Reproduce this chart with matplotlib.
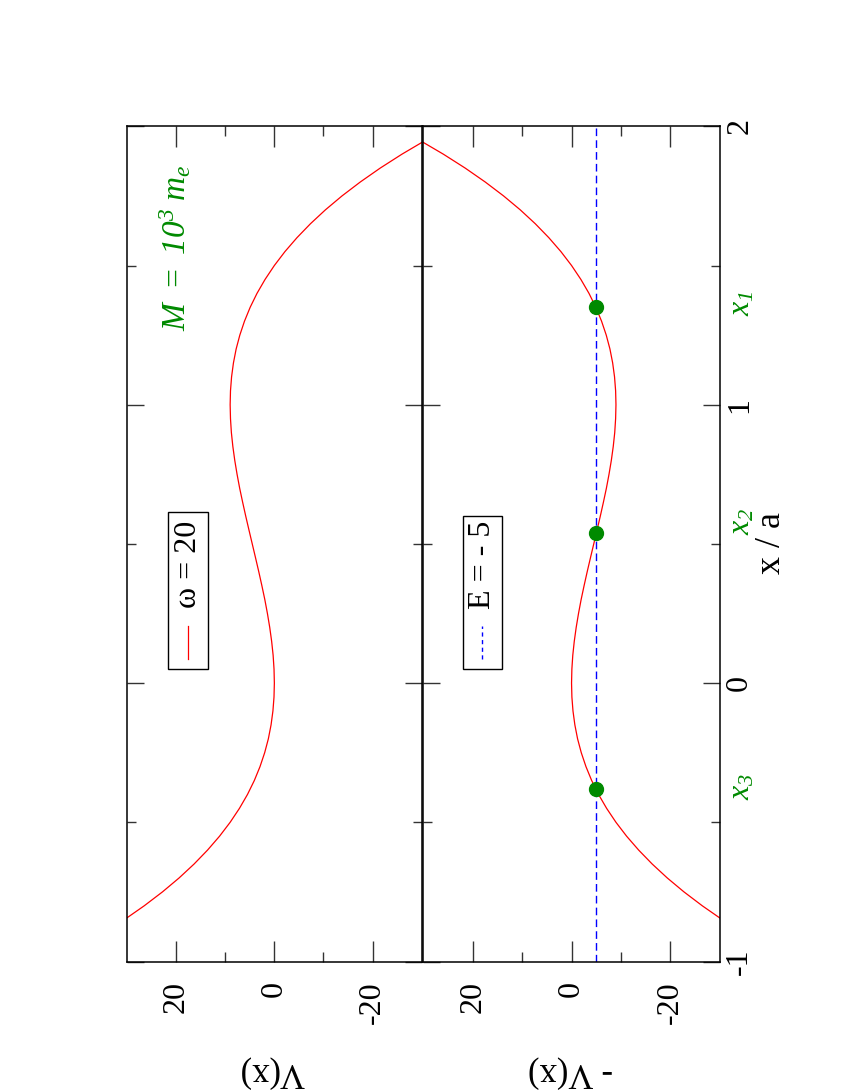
import numpy as np
import matplotlib
matplotlib.use("Agg")
import matplotlib.pyplot as plt
from matplotlib.patches import Rectangle

plt.rcParams["font.family"] = ["Liberation Serif", "DejaVu Serif"]
plt.rcParams["mathtext.fontset"] = "custom"
plt.rcParams["mathtext.rm"] = "Liberation Serif:italic"
plt.rcParams["mathtext.it"] = "Liberation Serif:italic"
plt.rcParams["axes.unicode_minus"] = False

# potencial V(x) (x en unidades de a)
x_vals = [-1.00, -0.95, -0.90, -0.85, -0.80, -0.75, -0.70, -0.65, -0.60, -0.55,
          -0.50, -0.45, -0.40, -0.35, -0.30, -0.25, -0.20, -0.15, -0.10, -0.05,
          0.00, 0.05, 0.10, 0.15, 0.20, 0.25, 0.30, 0.35, 0.40, 0.45,
          0.50, 0.55, 0.60, 0.65, 0.70, 0.75, 0.80, 0.85, 0.90, 0.95,
          1.00, 1.05, 1.10, 1.15, 1.20, 1.25, 1.30, 1.35, 1.40, 1.45,
          1.50, 1.55, 1.60, 1.65, 1.70, 1.75, 1.80, 1.85, 1.90, 1.95, 2.00]
V_vals = [45.0, 39.8, 35.0, 30.56, 26.5, 22.78, 19.4, 16.35, 13.61, 11.16,
          9.0, 7.11, 5.47, 4.08, 2.92, 1.97, 1.22, 0.67, 0.29, 0.07,
          0.0, 0.065, 0.25, 0.55, 0.94, 1.41, 1.94, 2.54, 3.17, 3.83,
          4.5, 5.17, 5.83, 6.46, 7.06, 7.59, 8.06, 8.45, 8.75, 8.93,
          9.0, 8.93, 8.71, 8.33, 7.78, 7.03, 6.08, 4.92, 3.53, 1.89,
          0.0, -2.16, -4.61, -7.35, -10.4, -13.78, -17.5, -21.56, -25.99, -30.8, -36.0]

E = -5
x_turn = [1.35, 0.54, -0.38]          # x1, x2, x3
turn_labels = [r"$x_1$", r"$x_2$", r"$x_3$"]
label_shift = [0.015, 0.04, 0.007]    # desplazamiento de las etiquetas
omega = 20

V = np.array(V_vals)
xs = np.array(x_vals)

W, H = 842, 1090
fig = plt.figure(figsize=(W / 100, H / 100), dpi=100)

bot = 1 - 961.5 / H
hgt = (961.5 - 126.3) / H
ax1 = fig.add_axes([127 / W, bot, (421.7 - 127) / W, hgt])
ax2 = fig.add_axes([423.5 / W, bot, (719.6 - 423.5) / W, hgt])

green = "#008a00"

# panel superior (V) y panel inferior (-V), girados 90 grados
ax1.plot(V, xs, color="red", lw=0.9)
ax2.plot(-V, xs, color="red", lw=0.9)
ax2.plot([E, E], [-1, 2], color="blue", lw=1.0, dashes=(5.5, 3))
ax2.plot([E] * len(x_turn), x_turn, "o", color=green, ms=10, zorder=5)

for ax in (ax1, ax2):
    ax.set_xlim(30, -30)
    ax.set_ylim(-1, 2)
    ax.set_xticks([-20, 0, 20])
    ax.set_xticks([-10, 10], minor=True)
    ax.set_yticks([-1, 0, 1, 2])
    ax.set_yticks([-0.5, 0.5, 1.5], minor=True)
    ax.tick_params(axis="x", which="major", direction="in", length=15,
                   width=1.0, color="#333333", top=True, bottom=True)
    ax.tick_params(axis="x", which="minor", direction="in", length=7.5,
                   width=1.0, color="#333333", top=True, bottom=True)
    ax.tick_params(axis="y", which="major", direction="in", length=12.5,
                   width=1.0, color="#333333", left=True, right=True)
    ax.tick_params(axis="y", which="minor", direction="in", length=6.5,
                   width=1.0, color="#333333", left=True, right=True)
    ax.tick_params(axis="x", labelsize=23, labelrotation=90, pad=14)
    ax.tick_params(axis="y", labelleft=False, labelright=False)
    for s in ax.spines.values():
        s.set_linewidth(1.1)

ax2.tick_params(axis="y", labelright=True, labelsize=23, labelrotation=90, pad=4)
for t in ax2.get_yticklabels():
    t.set_verticalalignment("center")

# etiquetas de ejes
ax1.text(0.492, -0.132, "V(x)", transform=ax1.transAxes, rotation=180,
         ha="center", va="center", fontsize=25)
ax2.text(0.495, -0.132, "- V(x)", transform=ax2.transAxes, rotation=180,
         ha="center", va="center", fontsize=25)
ax2.text(1.1736, 0.501, "x / a", transform=ax2.transAxes, rotation=90,
         ha="center", va="center", fontsize=26)

# puntos de retorno
for xt, dy, lab in zip(x_turn, label_shift, turn_labels):
    ax2.text(1.0757, xt + dy, lab, transform=ax2.get_yaxis_transform(),
             rotation=90, ha="center", va="center", fontsize=23, color=green)

ax1.text(0.163, 0.755, r"$M\ =\ 10^3\ m_e$", transform=ax1.transAxes,
         rotation=90, ha="center", va="bottom", fontsize=24, color=green)

# leyendas
ax1.add_patch(Rectangle((0.140, 0.350), 0.136, 0.1886, transform=ax1.transAxes,
                        fill=False, lw=1.0, ec="black"))
ax1.plot([0.208, 0.208], [0.362, 0.4017], transform=ax1.transAxes,
         color="red", lw=0.9)
ax1.text(0.208, 0.4233, "ω = %d" % omega, transform=ax1.transAxes,
         rotation=90, ha="center", va="bottom", fontsize=23)

ax2.add_patch(Rectangle((0.1324, 0.350), 0.1317, 0.1837, transform=ax2.transAxes,
                        fill=False, lw=1.0, ec="black"))
ax2.plot([0.1986, 0.1986], [0.362, 0.4017], transform=ax2.transAxes,
         color="blue", lw=1.0, dashes=(3, 2.5))
ax2.text(0.1986, 0.422, "E = - %d" % abs(E), transform=ax2.transAxes,
         rotation=90, ha="center", va="bottom", fontsize=23)

fig.savefig("out.png", dpi=100)
